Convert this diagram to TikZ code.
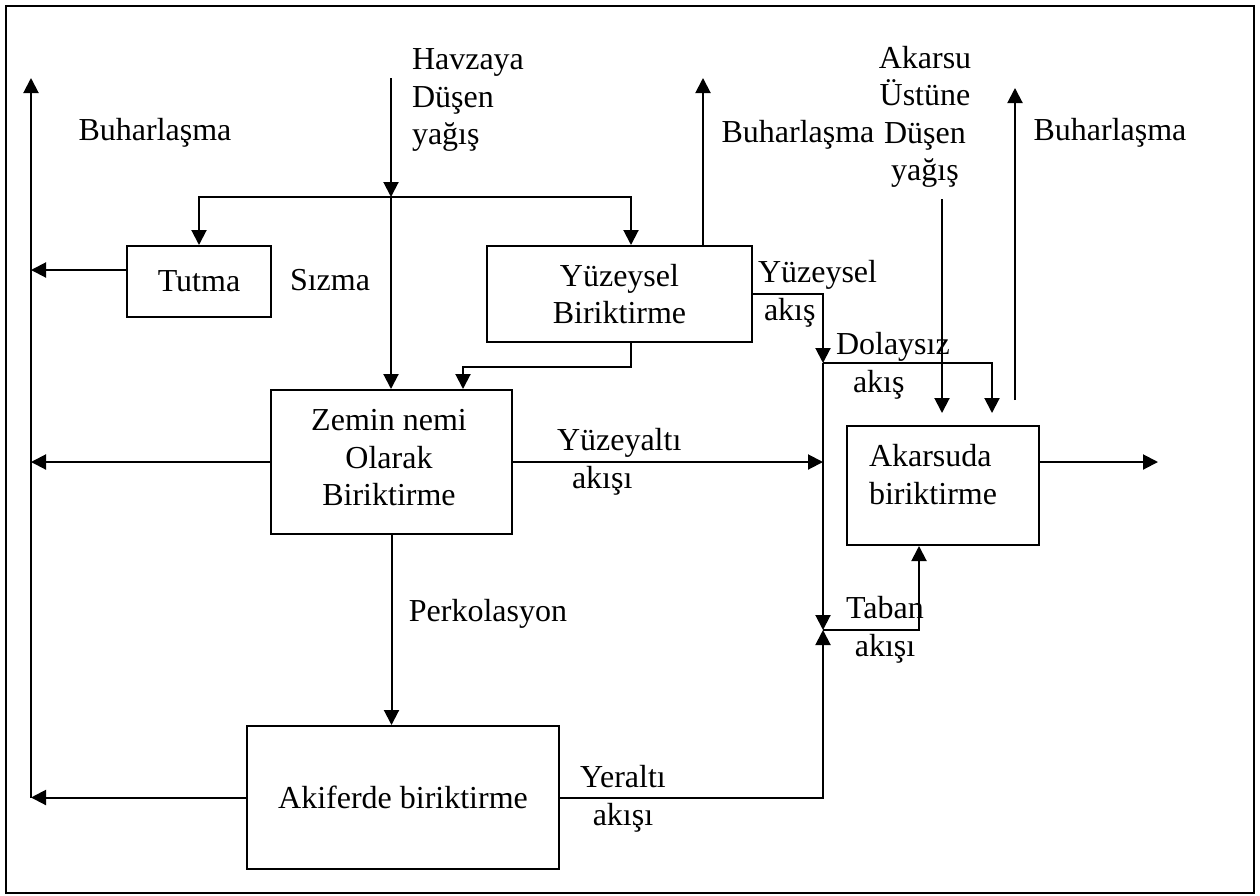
\documentclass[tikz,border=0pt]{standalone}
\usepackage{fontspec}
\setmainfont{Liberation Serif}
\usetikzlibrary{arrows.meta,calc}
\begin{document}
\begin{tikzpicture}[x=1pt,y=-1pt,
  line width=2pt,
  every node/.style={font=\fontsize{32}{37.5}\selectfont, inner sep=0pt},
  box/.style={draw, rectangle, align=center, line width=2pt},
  flow/.style={-{Triangle[length=15pt,width=15pt]}, line width=2pt}]
\useasboundingbox (0,0) rectangle (1260,895);
\draw (6,6) rectangle (1254,893);

% storage compartments
\node[box, minimum width=144pt, minimum height=71pt] (tutma) at (199,281.5) {Tutma};
\node[box, minimum width=265pt, minimum height=96pt] (yuzey) at (619.5,294) {Yüzeysel\\Biriktirme};
\node[box, minimum width=241pt, minimum height=144pt] (zemin) at (391.5,462) {};
\node[align=center] (zeminTxt) at (389,458) {Zemin nemi\\Olarak\\Biriktirme};
\node[box, minimum width=312pt, minimum height=143pt] (akifer) at (403,797.5) {Akiferde biriktirme};
\node[box, minimum width=192pt, minimum height=119pt] (akarsu) at (943,485.5) {};
\node[anchor=west, align=left] (akarsuTxt) at (868,474.5) {Akarsuda\\biriktirme};

% junction and end points
\coordinate (rainTop) at (391,78);
\coordinate (split) at (391,197);
\coordinate (evapL) at (31,78);
\coordinate (evapLbot) at (31,798);
\coordinate (tutY) at (0,270);
\coordinate (evapM) at (703,78);
\coordinate (join1) at (823,363);
\coordinate (join2) at (823,630);
\coordinate (rain2Top) at (942,199);
\coordinate (rain2Tip) at (942,413);
\coordinate (direct) at (992,413);
\coordinate (evapRbot) at (1015,400);
\coordinate (evapRtop) at (1015,88);
\coordinate (outflow) at (1158,462);

% precipitation on the basin
\draw[flow] (rainTop) -- (split);
\draw[flow] (split) -| (tutma.north);
\draw[flow] (split) -| ($(yuzey.north)+(11.5,0)$);
\draw[flow] (split) -- (split |- zemin.north);

% evaporation column on the left
\draw[flow] (evapLbot) -- (evapL);
\draw[flow] (tutma.west |- tutY) -- (evapL |- tutY);
\draw[flow] (zemin.west) -- (zemin.west -| evapL);
\draw[flow] (akifer.west) -- (akifer.west -| evapL);

% surface storage
\draw[flow] (yuzey.north -| evapM) -- (evapM);
\draw[flow] ($(yuzey.south)+(11.5,0)$) -- ++(0,24) -| ($(zemin.north)+(71.5,0)$);
\draw[flow] (yuzey.east) -| (join1);
\draw[flow] (join1) -| (direct);
\draw[flow] (join1) -- (join2);

% subsurface and groundwater flow
\draw[flow] (zemin.east) -- (zemin.east -| join1);
\draw[flow] (zemin.south) -- (akifer.north -| zemin.south);
\draw[flow] (akifer.east) -| (join2);
\draw[flow] (join2) -| ($(akarsu.south)+(-24,0)$);

% channel storage
\draw[flow] (rain2Top) -- (rain2Tip);
\draw[flow] (evapRbot) -- (evapRtop);
\draw[flow] (akarsu.east |- outflow) -- (outflow);

% labels
\node (buhL) at (155,133) {Buharlaşma};
\node[anchor=west, align=left] (havza) at (411,100) {Havzaya\\Düşen\\yağış};
\node (sizma) at (330,280) {Sızma};
\node (buhM) at (798,135) {Buharlaşma};
\node[align=center] (akUst) at (925,117) {Akarsu\\Üstüne\\Düşen\\yağış};
\node (buhR) at (1110,133) {Buharlaşma};
\node[anchor=west, align=left] (yzAkis) at (757,294) {Yüzeysel\\\hspace*{6pt}akış};
\node[anchor=west, align=left] (dolAkis) at (835,366) {Dolaysız\\\hspace*{17pt}akış};
\node[anchor=west, align=left] (yaAkis) at (556,462) {Yüzeyaltı\\\hspace*{15pt}akışı};
\node (perk) at (488,614) {Perkolasyon};
\node[align=center] (yerAkis) at (623,799) {Yeraltı\\akışı};
\node[align=center] (tabAkis) at (885,630) {Taban\\akışı};
\end{tikzpicture}
\end{document}
